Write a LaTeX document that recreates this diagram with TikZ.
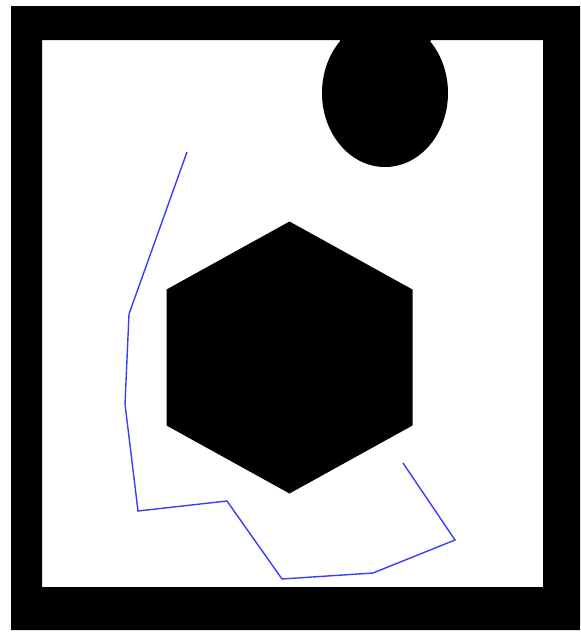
\documentclass[tikz,border=0pt]{standalone}
\usepackage{tikz}
\usetikzlibrary{calc}
\definecolor{pathblue}{RGB}{60,60,255}
\tikzset{
  obstacle/.style={fill=black, draw=none},
  route/.style={draw=pathblue, line width=0.7pt, line join=miter},
}

\begin{document}
\begin{tikzpicture}[x=0.5pt, y=-0.5pt]
  \useasboundingbox (0,0) rectangle (580,632);
  \fill[white] (0,0) rectangle (580,632);
  % walls of the room
  \fill[obstacle, even odd rule] (11,6) rectangle (580,630) (42,40) rectangle (543,587);
  % round obstacle at the top wall
  \fill[obstacle] (385,93) ellipse [x radius=63, y radius=74];
  \fill[obstacle] (340,20) rectangle (431,41);
  % hexagonal obstacle
  \fill[obstacle] (289.5,221.5) -- (412.5,289.5) -- (412.5,425.5)
    -- (289.5,493.5) -- (166.5,425.5) -- (166.5,289.5) -- cycle;
  % planned path
  \coordinate (p1) at (187,152);
  \coordinate (p2) at (129,314);
  \coordinate (p3) at (125,404);
  \coordinate (p4) at (138,511);
  \coordinate (p5) at (227,501);
  \coordinate (p6) at (282,579);
  \coordinate (p7) at (373,573);
  \coordinate (p8) at (455,540);
  \coordinate (p9) at (403,463);
  \draw[route] (p1) -- (p2) -- (p3) -- (p4) -- (p5) -- (p6) -- (p7) -- (p8) -- (p9);
\end{tikzpicture}
\end{document}
